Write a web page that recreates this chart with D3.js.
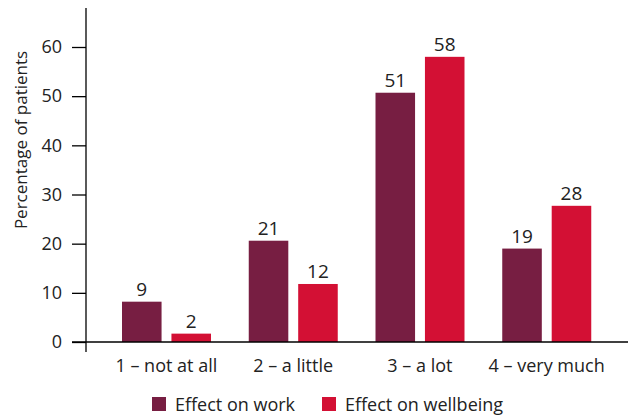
<!DOCTYPE html>
<html lang="en">
<head>
<meta charset="UTF-8">
<title>Effect on work and wellbeing</title>
<script src="https://d3js.org/d3.v7.min.js"></script>
<style>
    body { margin: 0; background: #fff; }
    text { font-family: "Open Sans", "Noto Sans", sans-serif; fill: #222; }
</style>
</head>
<body>
<svg width="628" height="418"></svg>
<script>
const categories = ["1 \u2013 not at all", "2 \u2013 a little", "3 \u2013 a lot", "4 \u2013 very much"];
const seriesNames = ["Effect on work", "Effect on wellbeing"];
// bar heights as drawn, and the printed labels
const workValues = [8.2, 20.6, 50.7, 19.0];
const wellbeingValues = [1.7, 11.8, 58.0, 27.7];
const workLabels = ["9", "21", "51", "19"];
const wellbeingLabels = ["2", "12", "58", "28"];
const yTicks = [0, 10, 20, 30, 40, 50, 60];
const colors = ["#771e42", "#d31034"];

const svg = d3.select("svg");

const y = d3.scaleLinear().domain([0, 60]).range([342, 47]);
const x = d3.scaleBand().domain(categories).range([103, 610]);
const inner = d3.scaleBand().domain(seriesNames).range([19, 108]).paddingInner(0.2);

const data = categories.map((c, i) => ({
    cat: c,
    vals: [
        {s: seriesNames[0], v: workValues[i], label: workLabels[i]},
        {s: seriesNames[1], v: wellbeingValues[i], label: wellbeingLabels[i]}
    ]
}));

// bars
const groups = svg.selectAll(".grp")
    .data(data)
  .enter().append("g")
    .attr("transform", d => "translate(" + x(d.cat) + ",0)");

groups.selectAll("rect")
    .data(d => d.vals)
  .enter().append("rect")
    .attr("x", d => inner(d.s))
    .attr("y", d => y(d.v))
    .attr("width", inner.bandwidth())
    .attr("height", d => y(0) - y(d.v))
    .attr("fill", (d, i) => colors[i]);

groups.selectAll(".val")
    .data(d => d.vals)
  .enter().append("text")
    .attr("x", d => inner(d.s) + inner.bandwidth() / 2)
    .attr("y", d => y(d.v) - 6)
    .attr("text-anchor", "middle")
    .style("font-size", "19px")
    .text(d => d.label);

// y axis
svg.append("line")
    .attr("x1", 86).attr("x2", 86)
    .attr("y1", 8).attr("y2", 352)
    .attr("stroke", "#000").attr("stroke-width", 1.3);

const yAxis = svg.append("g")
    .attr("transform", "translate(86,0)")
    .call(d3.axisLeft(y).tickValues(yTicks).tickSize(14).tickPadding(10));
yAxis.select(".domain").remove();
yAxis.selectAll(".tick line").attr("stroke", "#000").attr("stroke-width", 1.3);
yAxis.selectAll(".tick text")
    .style("font-size", "18px")
    .style("font-family", "'Open Sans', sans-serif")
    .attr("fill", "#222");

// baseline
svg.append("line")
    .attr("x1", 72).attr("x2", 628)
    .attr("y1", y(0)).attr("y2", y(0))
    .attr("stroke", "#000").attr("stroke-width", 1.3);

// category labels
svg.selectAll(".cat")
    .data(categories)
  .enter().append("text")
    .attr("x", d => x(d) + x.bandwidth() / 2)
    .attr("y", 372)
    .attr("text-anchor", "middle")
    .style("font-size", "18px")
    .text(d => d);

// y title
svg.append("text")
    .attr("transform", "translate(27,140) rotate(-90)")
    .attr("text-anchor", "middle")
    .style("font-size", "17px")
    .text("Percentage of patients");

// legend
const legendX = [152, 322];
const legend = svg.selectAll(".leg")
    .data(seriesNames)
  .enter().append("g")
    .attr("transform", (d, i) => "translate(" + legendX[i] + ",397)");
legend.append("rect")
    .attr("width", 14).attr("height", 14)
    .attr("fill", (d, i) => colors[i]);
legend.append("text")
    .attr("x", 23).attr("y", 14)
    .style("font-size", "18px")
    .text(d => d);
</script>
</body>
</html>
